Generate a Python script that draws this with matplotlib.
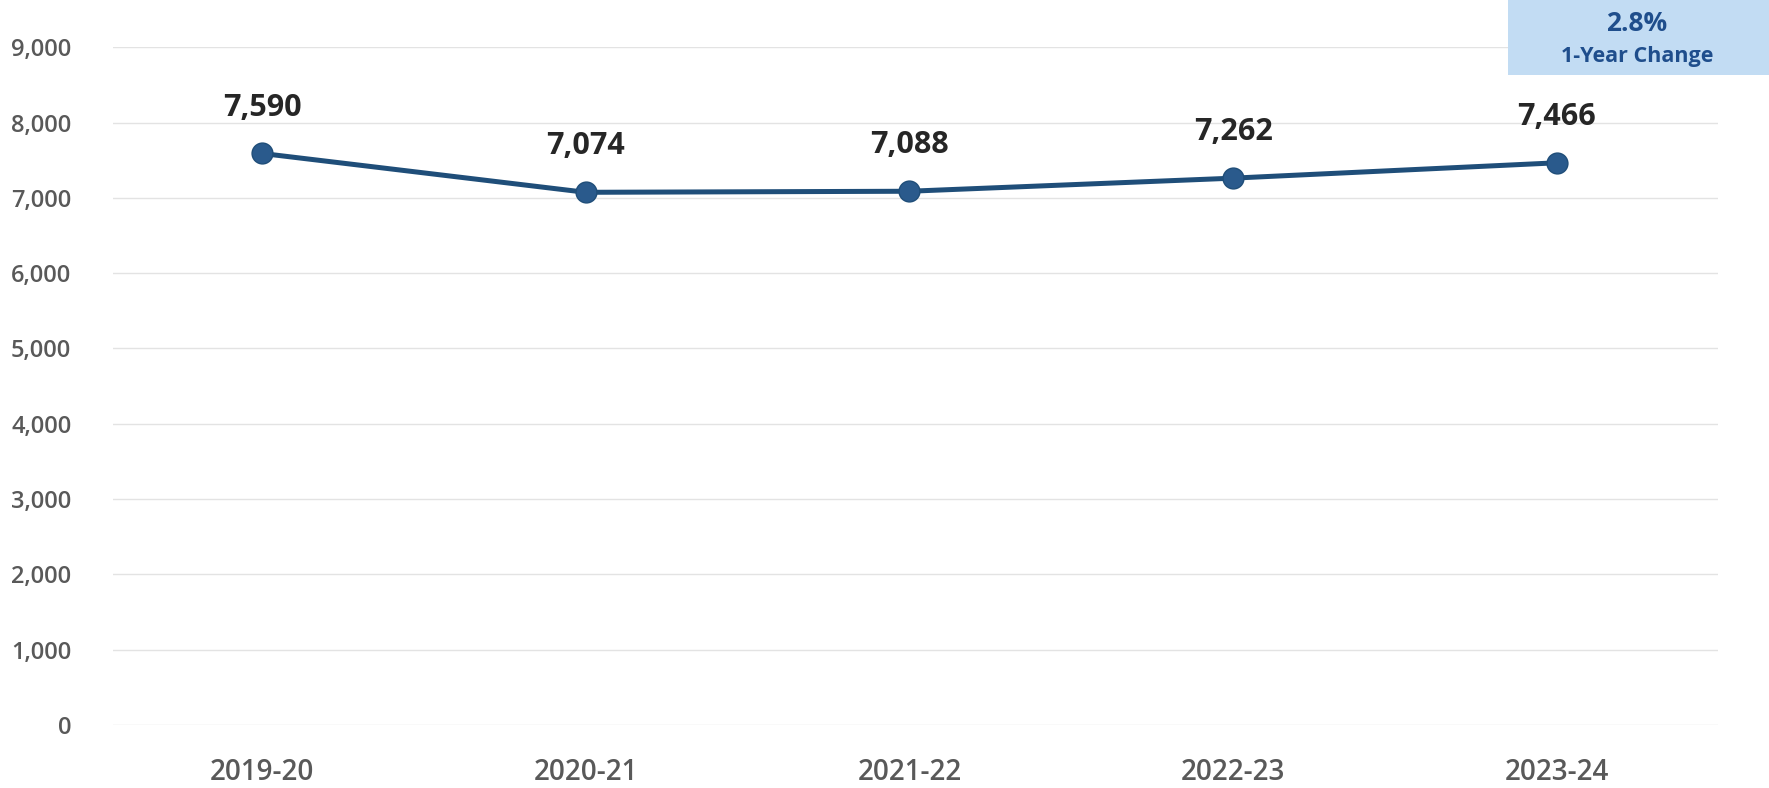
import matplotlib.pyplot as plt
from matplotlib.patches import Rectangle
from matplotlib.ticker import FuncFormatter

years = ["2019-20", "2020-21", "2021-22", "2022-23", "2023-24"]
enrollment = [7590, 7074, 7088, 7262, 7466]
change_text = "2.8%"
change_label = "1-Year Change"

plt.rcParams['font.family'] = ['Open Sans', 'DejaVu Sans']

fig = plt.figure(figsize=(17.69, 7.88), dpi=100)
ax = fig.add_axes([0.0639, 0.080, 0.9071, 0.860])

x = list(range(len(years)))
ax.plot(x, enrollment, color="#1F4E79", lw=3.6, marker="o", ms=15,
        markerfacecolor="#2A5A8C", markeredgecolor="#1F4E79", zorder=3)

for xi, v in zip(x, enrollment):
    ax.annotate(f"{v:,}", (xi, v), xytext=(0, 33), textcoords="offset points",
                ha="center", va="center", fontsize=22, fontweight="bold", color="#262626")

ax.set_ylim(0, 9000)
ax.set_xlim(-0.46, 4.497)
ax.set_yticks(range(0, 9001, 1000))
ax.yaxis.set_major_formatter(FuncFormatter(lambda v, p: f"{int(v):,}"))
ax.set_xticks(x)
ax.set_xticklabels(years)
ax.tick_params(axis="both", length=0, labelcolor="#595959")
ax.tick_params(axis="y", labelsize=17, pad=30)
ax.tick_params(axis="x", labelsize=20, pad=24)
for lab in ax.get_xticklabels() + ax.get_yticklabels():
    lab.set_fontweight("semibold")
ax.grid(axis="y", color="#E3E3E3", lw=1)
ax.set_axisbelow(True)
for s in ax.spines.values():
    s.set_visible(False)

# 1-year change box
fig.patches.append(Rectangle((0.8525, 0.905), 0.15, 0.1, transform=fig.transFigure,
                             facecolor="#C2DCF3", edgecolor="none", zorder=5))
fig.text(0.9254, 0.970, change_text, ha="center", va="center", fontsize=19,
         fontweight="bold", color="#1F4E8C", zorder=6)
fig.text(0.9254, 0.928, change_label, ha="center", va="center", fontsize=15.5,
         fontweight="bold", color="#1F4E8C", zorder=6)

fig.savefig("out.png", dpi=100)
